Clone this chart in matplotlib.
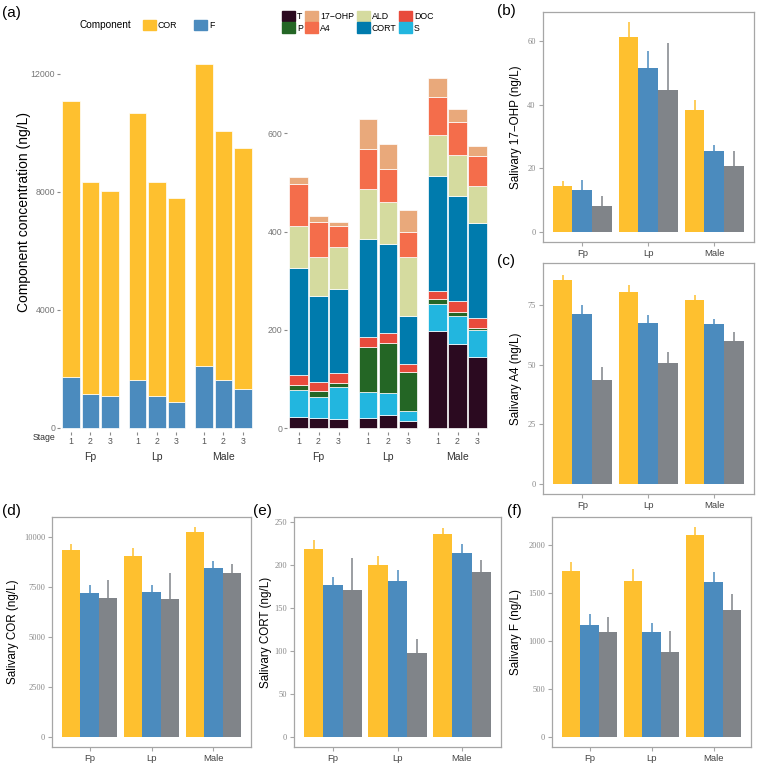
import numpy as np
import matplotlib
matplotlib.use('Agg')
import matplotlib.pyplot as plt
from matplotlib.patches import Patch
from matplotlib.transforms import blended_transform_factory

plt.rcParams['font.family'] = ['Liberation Sans', 'DejaVu Sans']

W, H = 757, 763

groups = ['Fp', 'Lp', 'Male']
stages = ['1', '2', '3']
stage_colors = ['#FEC02F', '#4B8BBE', '#808489']

# salivary means: rows = stage 1..3, columns = Fp, Lp, Male ; err = upper error
cor = [[9350, 9030, 10230], [7180, 7250, 8430], [6950, 6900, 8170]]
cor_err = [[280, 390, 270], [385, 330, 335], [880, 1300, 465]]
cort = [[218, 199, 235], [176, 181.5, 213.5], [171, 97.7, 192]]
cort_err = [[10, 11, 8], [10, 12.5, 10], [37, 15.5, 13]]
f_val = [[1736, 1631, 2104], [1169, 1096, 1621], [1092, 883, 1325]]
f_err = [[94, 122, 87], [114, 97, 101], [160, 223, 167]]
ohp = [[14.2, 61.4, 38.3], [13.0, 51.6, 25.5], [8.0, 44.7, 20.7]]
ohp_err = [[1.7, 4.5, 3.1], [3.1, 5.2, 1.7], [3.3, 14.6, 4.6]]
a4 = [[85.4, 80.5, 77.3], [71.4, 67.4, 66.9], [43.4, 50.6, 59.8]]
a4_err = [[2.3, 3.0, 2.1], [3.5, 3.3, 2.4], [5.8, 4.6, 3.7]]

# other components for the stacked chart, order Fp1..3, Lp1..3, Male1..3
t_val = [22, 20, 19, 20, 27, 14, 197, 171, 146]
s_val = [55, 43, 64, 53, 44, 21, 56, 57, 53]
p_val = [11, 12, 9, 92, 102, 80, 9, 9, 6]
doc_val = [20, 19, 20, 21, 20, 15, 17, 21, 20]
ald_val = [85, 78, 85, 102, 85, 120, 82, 85, 76]


def by_bar(m):
    # stage x group table -> bar order (group major)
    return [m[s][g] for g in range(3) for s in range(3)]


comp_names = ['T', 'S', 'P', 'DOC', 'CORT', 'ALD', 'A4', '17\u2212OHP']
comp_vals = [t_val, s_val, p_val, doc_val, by_bar(cort), ald_val, by_bar(a4), by_bar(ohp)]
comp_colors = {'T': '#2B0A20', 'P': '#246625', '17\u2212OHP': '#E9A97B', 'A4': '#F46D4B',
               'ALD': '#D5DB9F', 'CORT': '#007BAD', 'DOC': '#E84B3C', 'S': '#22B6DF'}
legend_order = ['T', 'P', '17\u2212OHP', 'A4', 'ALD', 'CORT', 'DOC', 'S']

fig = plt.figure(figsize=(W / 100, H / 100), dpi=100)


def px_axes(x0, y0, x1, y1):
    return fig.add_axes([x0 / W, 1 - y1 / H, (x1 - x0) / W, (y1 - y0) / H])


def fy(y):
    return 1 - y / H


TICKGRAY = '#8a8a8a'


def stage_axis(ax, pos, centers):
    for s in ax.spines.values():
        s.set_visible(False)
    ax.set_xticks(pos)
    ax.set_xticklabels(stages * 3, fontsize=6.3, color='#555555')
    ax.tick_params(axis='x', length=2, color=TICKGRAY, pad=1.5)
    ax.tick_params(axis='y', length=2, color=TICKGRAY, pad=1.5, labelsize=6.3, labelcolor='#777777')
    tr = blended_transform_factory(ax.transData, fig.transFigure)
    for c, g in zip(centers, groups):
        ax.text(c, fy(457), g, transform=tr, ha='center', va='center', fontsize=7.5, color='#333333')


# ---- (a) left: COR + F stacked
ax = px_axes(60, 45, 260, 432)
step = 3.41
pos = np.array([g * step + s for g in range(3) for s in range(3)])
fa = np.array(by_bar(f_val))
ca = np.array(by_bar(cor))
ax.bar(pos, fa, width=0.9, color=stage_colors[1], edgecolor='white', linewidth=0.5)
ax.bar(pos, ca, bottom=fa, width=0.9, color=stage_colors[0], edgecolor='white', linewidth=0.5)
ax.set_xlim(-0.564, 9.692)
ax.set_ylim(-135.6, 12983)
ax.set_yticks([0, 4000, 8000, 12000])
stage_axis(ax, pos, [g * step + 1 for g in range(3)])
fig.text(55 / W, fy(437), 'Stage', ha='right', va='center', fontsize=6.3, color='#333333')
fig.text(24 / W, fy(212), 'Component concentration (ng/L)', rotation=90, ha='center', va='center', fontsize=10)
fig.text(80 / W, fy(25), 'Component', ha='left', va='center', fontsize=7.2)
fig.legend([Patch(color=stage_colors[0]), Patch(color=stage_colors[1])], ['COR', 'F'], ncol=2,
           loc='center left', bbox_to_anchor=(143 / W, fy(25)), frameon=False, fontsize=6.3,
           handlelength=1.45, handleheight=1.45, handletextpad=0.25, columnspacing=1.9,
           borderpad=0, borderaxespad=0)
fig.text(2 / W, fy(13), '(a)', ha='left', va='center', fontsize=11)

# ---- (a) middle: steroid components stacked
ax = px_axes(287, 45, 492, 432)
step2 = 3.475
pos2 = np.array([g * step2 + s for g in range(3) for s in range(3)])
bottom = np.zeros(9)
for name, vals in zip(comp_names, comp_vals):
    ax.bar(pos2, vals, bottom=bottom, width=0.925, color=comp_colors[name], edgecolor='white', linewidth=0.5)
    bottom += np.array(vals)
ax.set_xlim(-0.575, 9.675)
ax.set_ylim(-7.5, 779.5)
ax.set_yticks([0, 200, 400, 600])
stage_axis(ax, pos2, [g * step2 + 1 for g in range(3)])
fig.legend([Patch(color=comp_colors[n]) for n in legend_order], legend_order, ncol=4,
           loc='upper left', bbox_to_anchor=(282 / W, fy(11)), frameon=False, fontsize=6.3,
           handlelength=1.45, handleheight=1.45, handletextpad=0.25, columnspacing=0.3,
           labelspacing=0.12, borderpad=0, borderaxespad=0)


# ---- salivary panels
def salivary(box, mean, err, ylim, yticks, ylabel, ylab_x, tag, tag_xy):
    ax = px_axes(*box)
    x = np.arange(1, 4)
    w = 0.3
    for i in range(3):
        xs = x + (i - 1) * w
        m = np.array(mean[i])
        ax.bar(xs, m, width=w, color=stage_colors[i], linewidth=0, zorder=2)
        ax.vlines(xs, m, m + np.array(err[i]), color=stage_colors[i], lw=1.1, zorder=1)
    ax.set_xlim(0.4, 3.6)
    ax.set_ylim(ylim)
    ax.set_xticks(x)
    ax.set_xticklabels(groups, fontsize=6.8, color='#444444')
    ax.set_yticks(yticks)
    ax.set_yticklabels([str(v) for v in yticks], family='Liberation Serif', fontsize=6, color='#888888')
    for s in ax.spines.values():
        s.set_color('#a6a6a6')
        s.set_linewidth(0.9)
    ax.tick_params(length=3, color='#a6a6a6', width=0.8, pad=2)
    ax.set_ylabel(ylabel, fontsize=8.4, va='center')
    ax.yaxis.set_label_coords((ylab_x - box[0]) / (box[2] - box[0]), 0.5)
    fig.text(tag_xy[0] / W, fy(tag_xy[1]), tag, ha='left', va='center', fontsize=11)


salivary((542.7, 12, 754, 242), ohp, ohp_err, (-3.3, 69.2), [0, 20, 40, 60],
         'Salivary 17\u2212OHP (ng/L)', 516, '(b)', (497, 11))
salivary((542.7, 263, 754, 494), a4, a4_err, (-4.2, 92.6), [0, 25, 50, 75],
         'Salivary A4 (ng/L)', 516, '(c)', (497, 261))
salivary((52.3, 516.7, 250.7, 747.3), cor, cor_err, (-530, 11000), [0, 2500, 5000, 7500, 10000],
         'Salivary COR (ng/L)', 13, '(d)', (2, 511))
salivary((294.3, 516.7, 500.7, 747.3), cort, cort_err, (-11.9, 255.6), [0, 50, 100, 150, 200, 250],
         'Salivary CORT (ng/L)', 265.5, '(e)', (253, 511))
salivary((552.3, 516.7, 750.7, 747.3), f_val, f_err, (-107, 2298), [0, 500, 1000, 1500, 2000],
         'Salivary F (ng/L)', 516.5, '(f)', (507, 511))

fig.savefig('out.png', dpi=100)
